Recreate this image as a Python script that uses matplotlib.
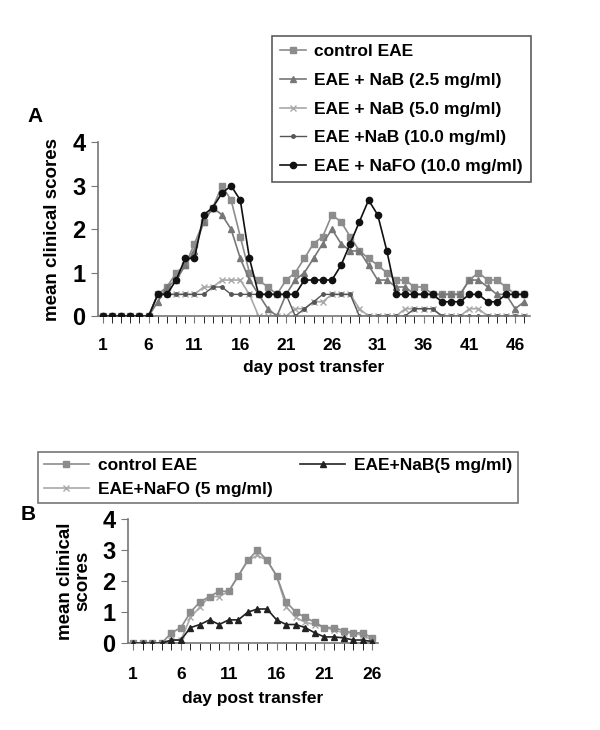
import matplotlib
matplotlib.use('Agg')
import matplotlib.pyplot as plt
import numpy as np

plt.rcParams['font.family'] = ['Liberation Sans', 'DejaVu Sans']
plt.rcParams['font.weight'] = 'bold'

# ---- panel A data (days 1..47) ----
dias_a = list(range(1, 48))
controle_a = [0, 0, 0, 0, 0, 0, 0.5, 0.67, 1.0, 1.17, 1.67, 2.17, 2.5, 3.0, 2.67, 1.83, 1.0, 0.83, 0.67, 0.5,
              0.83, 1.0, 1.33, 1.67, 1.83, 2.33, 2.17, 1.83, 1.5, 1.33, 1.17, 1.0, 0.83, 0.83, 0.67, 0.67, 0.5,
              0.5, 0.5, 0.5, 0.83, 1.0, 0.83, 0.83, 0.67, 0.5, 0.5]
nab25_a = [0, 0, 0, 0, 0, 0, 0.33, 0.67, 0.83, 1.17, 1.5, 2.17, 2.5, 2.33, 2.0, 1.33, 0.83, 0.5, 0.17, 0,
           0.5, 0.83, 1.0, 1.33, 1.67, 2.0, 1.67, 1.5, 1.5, 1.17, 0.83, 0.83, 0.67, 0.67, 0.5, 0.5, 0.5,
           0.5, 0.5, 0.5, 0.83, 0.83, 0.67, 0.5, 0.5, 0.17, 0.33]
nab5_a = [0, 0, 0, 0, 0, 0, 0.5, 0.5, 0.5, 0.5, 0.5, 0.67, 0.67, 0.83, 0.83, 0.83, 0.5, 0, 0, 0,
          0, 0.17, 0.17, 0.33, 0.33, 0.5, 0.5, 0.5, 0.17, 0, 0, 0, 0, 0.17, 0.17, 0.17, 0.17,
          0, 0, 0, 0.17, 0.17, 0, 0, 0, 0, 0]
nab10_a = [0, 0, 0, 0, 0, 0, 0.5, 0.5, 0.5, 0.5, 0.5, 0.5, 0.67, 0.67, 0.5, 0.5, 0.5, 0.5, 0.5, 0.5,
           0.5, 0, 0.17, 0.33, 0.5, 0.5, 0.5, 0.5, 0, 0, 0, 0, 0, 0, 0.17, 0.17, 0.17,
           0, 0, 0, 0, 0, 0, 0, 0, 0, 0]
nafo_a = [0, 0, 0, 0, 0, 0, 0.5, 0.5, 0.83, 1.33, 1.33, 2.33, 2.5, 2.83, 3.0, 2.67, 1.33, 0.5, 0.5, 0.5,
          0.5, 0.5, 0.83, 0.83, 0.83, 0.83, 1.17, 1.67, 2.17, 2.67, 2.33, 1.5, 0.5, 0.5, 0.5, 0.5, 0.5,
          0.33, 0.33, 0.33, 0.5, 0.5, 0.33, 0.33, 0.5, 0.5, 0.5]
rotulos_a = ['control EAE', 'EAE + NaB (2.5 mg/ml)', 'EAE + NaB (5.0 mg/ml)',
             'EAE +NaB (10.0 mg/ml)', 'EAE + NaFO (10.0 mg/ml)']

# ---- panel B data (days 1..26) ----
dias_b = list(range(1, 27))
controle_b = [0, 0, 0, 0, 0.33, 0.5, 1.0, 1.33, 1.5, 1.67, 1.67, 2.17, 2.67, 3.0, 2.67, 2.17, 1.33,
              1.0, 0.83, 0.67, 0.5, 0.5, 0.4, 0.33, 0.33, 0.17]
nab_b = [0, 0, 0, 0, 0.1, 0.1, 0.5, 0.6, 0.75, 0.6, 0.75, 0.75, 1.0, 1.1, 1.1, 0.75, 0.6,
         0.6, 0.5, 0.33, 0.2, 0.2, 0.17, 0.1, 0.1, 0.05]
nafo_b = [0, 0, 0, 0, 0.1, 0.1, 0.83, 1.17, 1.5, 1.5, 1.67, 2.17, 2.67, 2.83, 2.67, 2.17, 1.17,
          0.83, 0.67, 0.6, 0.5, 0.43, 0.33, 0.33, 0.25, 0.1]
rotulos_b = ['control EAE', 'EAE+NaFO (5 mg/ml)', 'EAE+NaB(5 mg/ml)']

fig = plt.figure(figsize=(6, 7.3), dpi=100)
eixo_cor = '#777777'


def arruma_eixo(ax, dias, xmax, pad_x, pad_lab):
    ax.set_ylim(0, 4)
    ax.set_yticks([0, 1, 2, 3, 4])
    ax.set_xlim(0.45, xmax)
    ax.set_xticks(dias[::5])
    ax.set_xticks(dias, minor=True)
    for lado in ['top', 'right']:
        ax.spines[lado].set_visible(False)
    for lado in ['left', 'bottom']:
        ax.spines[lado].set_color(eixo_cor)
        ax.spines[lado].set_linewidth(1.2)
    ax.tick_params(axis='both', colors=eixo_cor, labelcolor='black', direction='out')
    ax.tick_params(axis='y', length=5, labelsize=17, pad=4)
    ax.tick_params(axis='x', which='both', length=5, labelsize=12.5, pad=pad_x)
    for t in ax.get_xticklabels() + ax.get_yticklabels():
        t.set_fontweight('bold')
    ax.set_xlabel('day post transfer', fontsize=12.5, fontweight='bold', labelpad=pad_lab)


# ---------- A ----------
axA = fig.add_axes([0.163, 0.567, 0.72, 0.238])
axA.plot(dias_a, controle_a, color='#8c8c8c', marker='s', ms=4.5, lw=1.2, label=rotulos_a[0], zorder=3)
axA.plot(dias_a, nab25_a, color='#777777', marker='^', ms=5, lw=1.2, label=rotulos_a[1], zorder=3)
axA.plot(dias_a, nab5_a, color='#a8a8a8', marker='x', ms=4, mew=1, lw=1.2, label=rotulos_a[2], zorder=2)
axA.plot(dias_a, nab10_a, color='#555555', marker='o', ms=2.5, lw=1.0, label=rotulos_a[3], zorder=2)
axA.plot(dias_a, nafo_a, color='#111111', marker='o', ms=4.5, lw=1.2, label=rotulos_a[4], zorder=4)
arruma_eixo(axA, dias_a, 47.6, 11, 5)
axA.set_ylabel('mean clinical scores', fontsize=13.5, fontweight='bold', labelpad=8)
fig.text(0.045, 0.84, 'A', fontsize=15, fontweight='bold', ha='left', va='center')
legA = axA.legend(loc='upper left', bbox_to_anchor=(0.403, 1.61), frameon=True, fancybox=False,
                  edgecolor='#333333', fontsize=12.5, handlelength=1.5, handletextpad=0.5,
                  borderpad=0.45, labelspacing=0.78, borderaxespad=0)
legA.get_frame().set_linewidth(1.2)
for t in legA.get_texts():
    t.set_fontweight('bold')

# ---------- B ----------
axB = fig.add_axes([0.213, 0.119, 0.417, 0.170])
l1, = axB.plot(dias_b, controle_b, color='#8c8c8c', marker='s', ms=4.5, lw=1.2, zorder=3)
l3, = axB.plot(dias_b, nafo_b, color='#a8a8a8', marker='x', ms=4, mew=1, lw=1.2, zorder=2)
l2, = axB.plot(dias_b, nab_b, color='#222222', marker='^', ms=5, lw=1.2, zorder=4)
arruma_eixo(axB, dias_b, 26.6, 12, 7)
axB.set_ylabel('mean clinical\nscores', fontsize=13.5, fontweight='bold', labelpad=8, linespacing=1.0)
fig.text(0.035, 0.295, 'B', fontsize=15, fontweight='bold', ha='left', va='center')
legB = fig.legend([l1, l3, l2], rotulos_b, ncol=2, loc='upper left', bbox_to_anchor=(0.063, 0.381),
                  frameon=True, fancybox=False, edgecolor='#555555', fontsize=12.5, handlelength=2.6,
                  handletextpad=0.5, columnspacing=1.6, borderpad=0.35, labelspacing=0.5,
                  borderaxespad=0)
legB.get_frame().set_linewidth(1.2)
for t in legB.get_texts():
    t.set_fontweight('bold')

plt.savefig('out.png', dpi=100)
plt.close()
